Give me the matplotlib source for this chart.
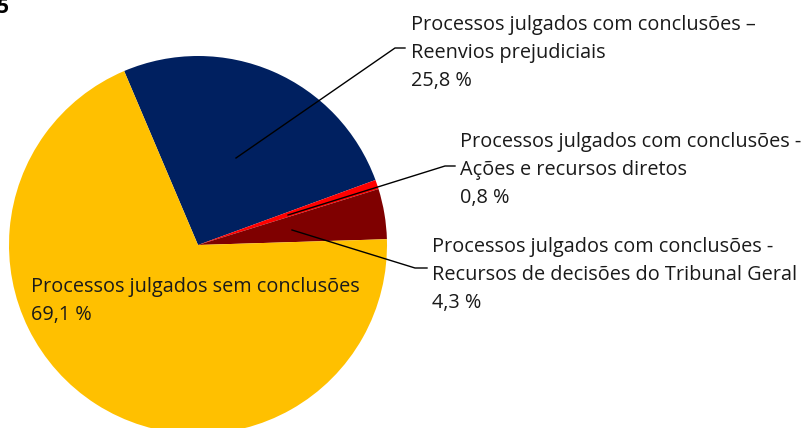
import matplotlib.pyplot as plt

plt.rcParams['font.family'] = ['Open Sans', 'DejaVu Sans']

# slice data (clockwise from the navy slice)
labels = ["Processos julgados com conclusões –\nReenvios prejudiciais",
          "Processos julgados com conclusões -\nAções e recursos diretos",
          "Processos julgados com conclusões -\nRecursos de decisões do Tribunal Geral",
          "Processos julgados sem conclusões"]
values = [25.8, 0.8, 4.3, 69.1]
colors = ['#002060', '#FF0000', '#7F0000', '#FFC000']

W, H = 801, 428
fig = plt.figure(figsize=(W / 100, H / 100), dpi=100)
ax = fig.add_axes([0, 0, 1, 1])

cx, cy, r = 198, H - 245, 189
ax.pie(values, colors=colors, startangle=113, counterclock=False,
       center=(cx, cy), radius=r, frame=True)
ax.set_xlim(0, W)
ax.set_ylim(0, H)
ax.set_aspect('equal')
ax.axis('off')

fs = 14.3
ls = 1.53
pct = [f"{v:.1f} %".replace('.', ',') for v in values]

# label positions (pixels from top-left) and leader lines
texts = [(411, 15), (460, 132), (432, 237)]
leaders = [[(236, 158), (395, 48), (405, 48)],
           [(288, 215), (445, 166), (455, 166)],
           [(292, 230), (415, 268), (427, 268)]]
for i in range(3):
    tx, ty = texts[i]
    ax.text(tx, H - ty, labels[i] + "\n" + pct[i], fontsize=fs, va='top',
            ha='left', linespacing=ls, color='#1a1a1a')
    xs = [p[0] for p in leaders[i]]
    ys = [H - p[1] for p in leaders[i]]
    ax.plot(xs, ys, color='black', lw=1)

ax.text(31, H - 277, labels[3] + "\n" + pct[3], fontsize=fs, va='top',
        ha='left', linespacing=ls, color='#1a1a1a')

# cut-off figure number at the top-left
ax.text(9, H + 3, "5", fontsize=15, fontweight='bold', ha='right', va='top')

fig.savefig('out.png', dpi=100)
